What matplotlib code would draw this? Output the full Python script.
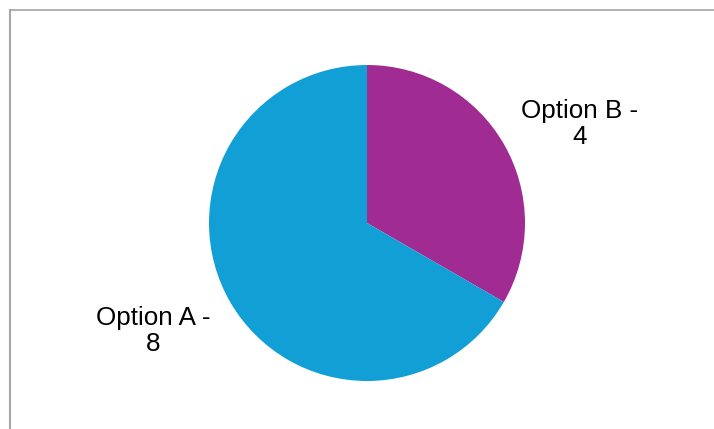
import matplotlib
matplotlib.use("Agg")
import matplotlib.pyplot as plt
from matplotlib.lines import Line2D

labels = ["Option B", "Option A"]
values = [4, 8]
colors = ["#A02B93", "#119FD6"]

W, H = 714, 429
fig = plt.figure(figsize=(W / 100, H / 100), dpi=100)
fig.patch.set_facecolor("white")

cx, cy, r = 367, 223, 158
ax = fig.add_axes([(cx - r) / W, (H - cy - r) / H, 2 * r / W, 2 * r / H])
ax.pie(values, colors=colors, startangle=90, counterclock=False,
       wedgeprops=dict(linewidth=0))
ax.set_aspect("equal")
ax.set_xlim(-1, 1)
ax.set_ylim(-1, 1)

def fx(px):
    return px / W

def fy(py):
    return 1 - py / H

label_pos = [(579.5, 124), (153.5, 331)]
for lab, val, (px, py) in zip(labels, values, label_pos):
    fig.text(fx(px), fy(py), f"{lab} -\n{val}", ha="center", va="center",
             fontsize=18.7, family="Liberation Sans", color="black",
             linespacing=1.12)

# outer frame
fig.add_artist(Line2D([fx(9.5), fx(714)], [fy(9.5), fy(9.5)], color="#A6A6A6", lw=1.2,
                      transform=fig.transFigure))
fig.add_artist(Line2D([fx(9.5), fx(9.5)], [fy(9.5), fy(429)], color="#A6A6A6", lw=1.5,
                      transform=fig.transFigure))

fig.savefig("out.png", dpi=100)
